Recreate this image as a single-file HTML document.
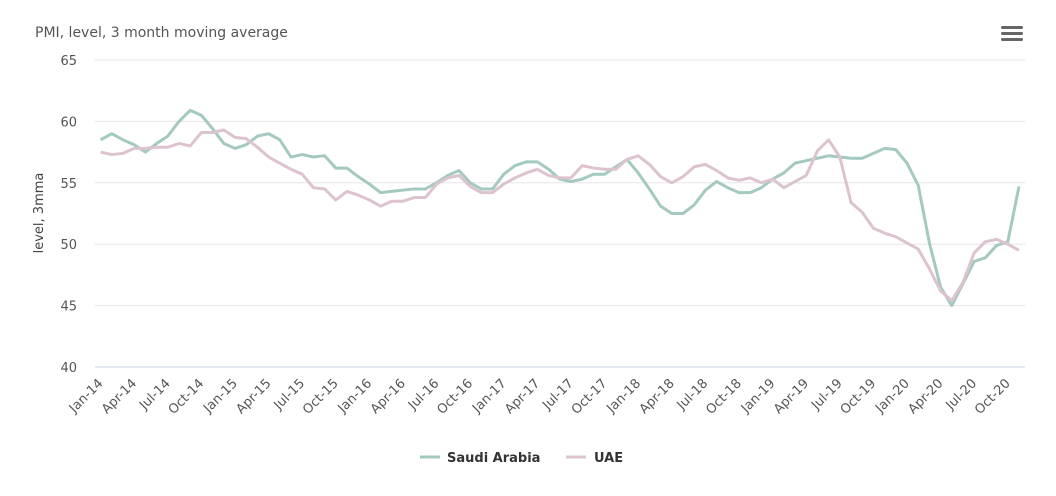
<!DOCTYPE html><html><head><style>body{margin:0;background:#fff}</style></head><body>
<svg id="s" width="1056" height="491" xmlns="http://www.w3.org/2000/svg" font-family="DejaVu Sans, sans-serif">
<rect width="1056" height="491" fill="#fff"/>
<text x="35" y="37" font-size="14" fill="#555">PMI, level, 3 month moving average</text>
<g fill="#666"><rect x="1001" y="26" width="22" height="3" rx="1.5"/><rect x="1001" y="32" width="22" height="3" rx="1.5"/><rect x="1001" y="38" width="22" height="3" rx="1.5"/></g>
<text transform="translate(43,213) rotate(-90)" text-anchor="middle" font-size="13" fill="#444">level, 3mma</text>
<g id="grid"></g><g id="xl"></g><g id="lines"></g>
<g font-size="13" font-weight="bold" fill="#333">
<line x1="420" y1="457" x2="440" y2="457" stroke="#a4c9c0" stroke-width="3"/><text x="447" y="462">Saudi Arabia</text>
<line x1="566" y1="457" x2="586" y2="457" stroke="#dcc3cf" stroke-width="3"/><text x="594" y="462">UAE</text></g>
</svg>
<script>
const ns="http://www.w3.org/2000/svg";
function el(p,t,a,txt){const e=document.createElementNS(ns,t);for(const k in a)e.setAttribute(k,a[k]);if(txt)e.textContent=txt;document.getElementById(p).appendChild(e);}
const Y=v=>367-12.28*(v-40), X=i=>100.6+11.2*i;
for(let v=40;v<=65;v+=5){el('grid','line',{x1:95,x2:1025,y1:Y(v),y2:Y(v),stroke:v==40?'#ccd6eb':'#e6e6e6'});el('grid','text',{x:77,y:Y(v)+5,'text-anchor':'end','font-size':13,fill:'#555'},v);}
const m=['Jan','Apr','Jul','Oct'];
for(let k=0;k<28;k++){const i=k*3;const lab=m[k%4]+'-'+(14+Math.floor(k/4));el('xl','text',{transform:`translate(${X(i)+3},${384}) rotate(-45)`,'text-anchor':'end','font-size':13,fill:'#555'},lab);}
const sa=[58.5,59,58.5,58.1,57.5,58.2,58.8,60,60.9,60.5,59.4,58.2,57.8,58.1,58.8,59,58.5,57.1,57.3,57.1,57.2,56.2,56.2,55.5,54.9,54.2,54.3,54.4,54.5,54.5,55,55.6,56,55,54.5,54.5,55.7,56.4,56.7,56.7,56.1,55.3,55.1,55.3,55.7,55.7,56.3,56.9,55.8,54.5,53.1,52.5,52.5,53.2,54.4,55.1,54.6,54.2,54.2,54.6,55.3,55.8,56.6,56.8,57,57.2,57.1,57,57,57.4,57.8,57.7,56.6,54.8,50.1,46.5,45,46.8,48.6,48.9,49.9,50.2,54.7];
const ua=[57.5,57.3,57.4,57.8,57.8,57.9,57.9,58.2,58,59.1,59.1,59.3,58.7,58.6,57.9,57.1,56.6,56.1,55.7,54.6,54.5,53.6,54.3,54,53.6,53.1,53.5,53.5,53.8,53.8,54.9,55.4,55.6,54.7,54.2,54.2,54.9,55.4,55.8,56.1,55.6,55.4,55.4,56.4,56.2,56.1,56.1,56.9,57.2,56.5,55.5,55,55.5,56.3,56.5,56,55.4,55.2,55.4,55,55.3,54.6,55.1,55.6,57.6,58.5,57.1,53.4,52.6,51.3,50.9,50.6,50.1,49.6,48,46.2,45.4,46.9,49.3,50.2,50.4,50,49.5];
el('lines','polyline',{points:sa.map((v,i)=>X(i)+','+Y(v)).join(' '),fill:'none',stroke:'#a4c9c0','stroke-width':3,'stroke-linejoin':'round'});
el('lines','polyline',{points:ua.map((v,i)=>X(i)+','+Y(v)).join(' '),fill:'none',stroke:'#dcc3cf','stroke-width':3,'stroke-linejoin':'round'});
</script></body></html>
